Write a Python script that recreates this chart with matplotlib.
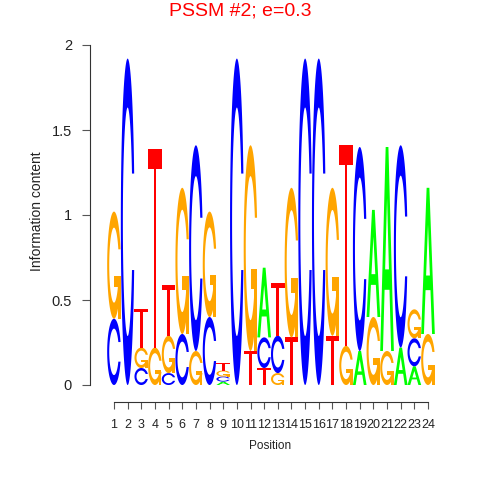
#!/usr/bin/env python3
"""
Sequence logo for PSSM #2 (information content per position)
"""

import numpy as np
import matplotlib
matplotlib.use('Agg')
import matplotlib.pyplot as plt
from matplotlib.path import Path
from matplotlib.patches import PathPatch

plt.rcParams['font.family'] = ['Liberation Sans', 'DejaVu Sans']

# information content of each base
positions = list(range(1, 25))
ic_A = [0, 0, 0, 0, 0, 0, 0, 0, 0.02, 0, 0, 0.41,
        0, 0, 0, 0, 0, 0, 0.20, 0.63, 1.20, 0.22, 0.11, 0.86]
ic_C = [0.39, 1.92, 0.10, 0, 0.07, 0.30, 1.21, 0.40, 0.03, 1.92, 0, 0.18,
        0.22, 0, 1.92, 1.92, 0, 0, 1.20, 0, 0, 1.19, 0.165, 0]
ic_G = [0.63, 0, 0.12, 0.22, 0.22, 0.86, 0.20, 0.62, 0.035, 0, 1.21, 0,
        0.07, 0.88, 0, 0, 0.87, 0.23, 0, 0.40, 0.20, 0, 0.17, 0.30]
ic_T = [0, 0, 0.23, 1.17, 0.30, 0, 0, 0, 0.045, 0, 0.20, 0.10,
        0.31, 0.28, 0, 0, 0.29, 1.18, 0, 0, 0, 0, 0, 0]

letter_colors = {'A': '#00FF00', 'C': '#0000FF', 'G': '#FFA500', 'T': '#FF0000'}
title_text = 'PSSM #2; e=0.3'
y_ticks = [0, 0.5, 1, 1.5, 2]
y_tick_labels = ['0', '0.5', '1', '1.5', '2']


def ring_outline():
    """Outline of the C shape in a unit box (same recipe as seqLogo)."""
    a1 = np.linspace(0.3 + np.pi / 2, np.pi, 100)
    a2 = np.linspace(np.pi, 1.5 * np.pi, 100)
    xl1, yl1 = 0.5 + 0.5 * np.sin(a1), 0.5 + 0.5 * np.cos(a1)
    xl2, yl2 = 0.5 + 0.5 * np.sin(a2), 0.5 + 0.5 * np.cos(a2)
    xl = np.concatenate([xl1, xl2])
    yl = np.concatenate([yl1, yl2])
    x = np.concatenate([xl, xl[::-1]])
    y = np.concatenate([yl, 1 - yl[::-1]])

    xi1, yi1 = 0.5 + 0.35 * np.sin(a1), 0.5 + 0.35 * np.cos(a1)
    keep = yi1 <= yl1.max()
    xi1, yi1 = xi1[keep], yi1[keep]
    yi1[0] = yl1.max()
    xi2, yi2 = 0.5 + 0.35 * np.sin(a2), 0.5 + 0.35 * np.cos(a2)
    xi = np.concatenate([xi1, xi2])
    yi = np.concatenate([yi1, yi2])
    x1 = np.concatenate([xi, xi[::-1]])
    y1 = np.concatenate([yi, 1 - yi[::-1]])

    x = np.concatenate([x, x1[::-1]])
    y = np.concatenate([y, y1[::-1]])
    return np.column_stack([x, y]), xl1.max()


def signed_area(p):
    return 0.5 * np.sum(p[:-1, 0] * p[1:, 1] - p[1:, 0] * p[:-1, 1])


def letter_shapes(ch):
    """Return list of polygons (outer, holes...) for a letter in unit box."""
    if ch == 'A':
        outer = np.array([[0, 0], [4, 10], [6, 10], [10, 0], [8, 0],
                          [6.8, 3], [3.2, 3], [2, 0], [0, 0]]) * 0.1
        hole = np.array([[3.6, 4], [5, 7.5], [6.4, 4], [3.6, 4]]) * 0.1
        if np.sign(signed_area(outer)) == np.sign(signed_area(hole)):
            hole = hole[::-1]
        return [[outer, hole]]
    if ch == 'T':
        poly = np.array([[0, 10], [10, 10], [10, 9], [6, 9], [6, 0],
                         [4, 0], [4, 9], [0, 9], [0, 10]]) * 0.1
        return [[poly]]
    ring, r1 = ring_outline()
    if ch == 'C':
        return [[ring]]
    h1 = 0.4
    bar = np.array([[r1, h1], [0.5, h1], [0.5, h1 - 0.1], [r1 - 0.2, h1 - 0.1],
                    [r1 - 0.2, 0], [r1, 0], [r1, h1]])
    return [[ring], [bar]]


def draw_letter(ax, ch, xc, y0, ht, wt=1.0):
    for group in letter_shapes(ch):
        verts, codes = [], []
        for poly in group:
            pts = np.column_stack([xc - wt / 2 + poly[:, 0] * wt, y0 + poly[:, 1] * ht])
            verts.extend(pts.tolist())
            codes.extend([Path.MOVETO] + [Path.LINETO] * (len(pts) - 1))
        patch = PathPatch(Path(verts, codes), facecolor=letter_colors[ch],
                          edgecolor='none', lw=0)
        ax.add_patch(patch)


fig = plt.figure(figsize=(4.8, 4.8), dpi=100)
ax = fig.add_axes([90 / 480, 78 / 480, 350 / 480, 357 / 480])

heights = {'A': ic_A, 'C': ic_C, 'G': ic_G, 'T': ic_T}
for i, pos in enumerate(positions):
    col = sorted([(heights[b][i], b) for b in 'ACGT'])
    base = 0.0
    for h, b in col:
        if h <= 0:
            continue
        draw_letter(ax, b, pos, base, h)
        base += h

ax.set_xlim(-0.758, 24.879)
ax.set_ylim(-0.1, 2.0)

for side in ['top', 'right']:
    ax.spines[side].set_visible(False)
ax.spines['left'].set_bounds(0, 2)
ax.spines['bottom'].set_bounds(1, 24)
for side in ['left', 'bottom']:
    ax.spines[side].set_color('#333333')
    ax.spines[side].set_linewidth(0.8)

ax.set_yticks(y_ticks)
ax.set_yticklabels(y_tick_labels)
ax.set_xticks(positions)
ax.set_xticklabels([str(p) for p in positions])
ax.tick_params(axis='y', length=6, width=0.8, color='#555555', pad=7,
               labelsize=10.5, labelcolor='#222222')
ax.tick_params(axis='x', length=5, width=0.8, color='#555555', pad=7,
               labelsize=9, labelcolor='#222222')

fig.text(37 / 480, 1 - 211 / 480, 'Information content', rotation=90,
         ha='center', va='center', fontsize=10, color='#222222')
fig.text(270 / 480, 1 - 446 / 480, 'Position', ha='center', va='center',
         fontsize=8.5, color='#222222')
fig.text(0.5, 1 - 15 / 480, title_text, ha='center', va='baseline',
         fontsize=14, color='#FF0000')

plt.savefig('out.png', dpi=100, facecolor='white')
